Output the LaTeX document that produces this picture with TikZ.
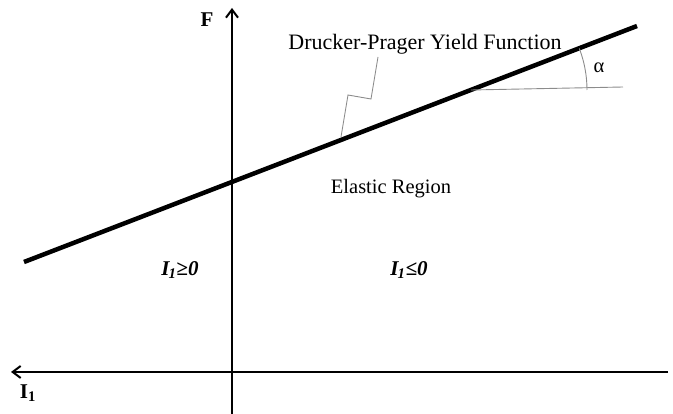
\documentclass[tikz,border=0pt]{standalone}
\usepackage{fontspec}
\setmainfont{Liberation Serif}
\usepackage{tikz}
\usepackage{xcolor}
\usetikzlibrary{arrows.meta,calc}
\definecolor{dpgray}{HTML}{8C8C8C}
\tikzset{
  axis/.style={line width=2pt, -{Straight Barb[length=8pt,width=12pt,line width=2pt]}},
  yieldline/.style={line width=4.5pt},
  thin/.style={line width=0.9pt, draw=dpgray},
  lbl/.style={font=\fontsize{20.5}{22}\selectfont, inner sep=0pt},
  axlbl/.style={font=\fontsize{21}{23}\selectfont\bfseries, inner sep=0pt},
  region/.style={font=\fontsize{21}{23}\selectfont\bfseries\itshape, inner sep=0pt}
}

\begin{document}
\begin{tikzpicture}[x=1pt,y=-1pt]
  \useasboundingbox (0,0) rectangle (673,414);
  % axes
  \coordinate (ybot) at (232,414);
  \coordinate (ytop) at (232,8);
  \coordinate (xright) at (668,372);
  \coordinate (xleft) at (11,372);
  \draw[axis] (ybot) -- (ytop);
  \draw[axis] (xright) -- (xleft);
  \node[axlbl] (F) at (207,20) {F};
  \node[axlbl] (I) at (28,393) {I\textsubscript{1}};
  % yield function
  \coordinate (ys) at (24,262);
  \coordinate (ye) at (637,26);
  \draw[yieldline] (ys) -- (ye);
  \node[lbl, font=\fontsize{22}{24}\selectfont] (dp) at (425,44) {Drucker-Prager Yield Function};
  \coordinate (k1) at (378,57);
  \coordinate (k2) at (371,99);
  \coordinate (k3) at (348,95);
  \coordinate (k4) at (341,137);
  \draw[thin] (k1) -- (k2) -- (k3) -- (k4);
  % angle
  \coordinate (o) at (471,90);
  \coordinate (h) at (623,87);
  \draw[thin] (o) -- (h);
  \draw[thin] ($(o)+(116,0)$) arc[start angle=0, end angle=-21, radius=116];
  \node[lbl] (alpha) at (599,68) {α};
  % regions
  \node[region] (pos) at (180,270) {I\kern-1pt\textsubscript{1}≥0};
  \node[region] (neg) at (409,270) {I\kern-1pt\textsubscript{1}≤0};
  \node[lbl] (er) at (391,189) {Elastic Region};
\end{tikzpicture}
\end{document}
